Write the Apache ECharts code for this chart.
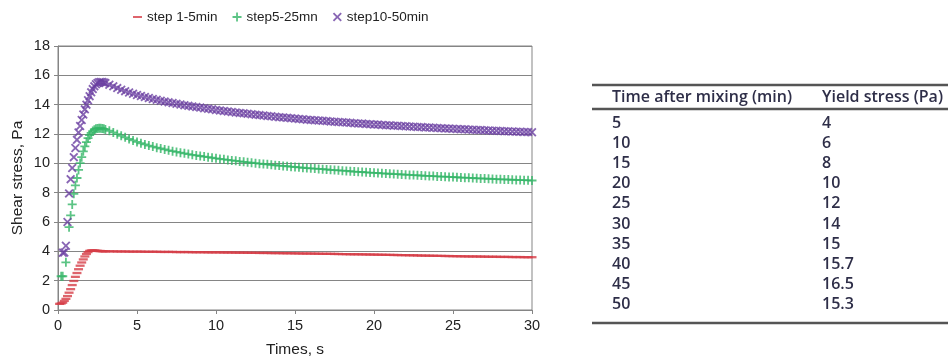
<!DOCTYPE html>
<html>
<head>
<meta charset="utf-8">
<script src="https://cdn.jsdelivr.net/npm/echarts@6/dist/echarts.min.js"></script>
<style>
  html, body { margin: 0; padding: 0; background: #fff; }
  #chart { width: 948px; height: 363px; }
</style>
</head>
<body>
<div id="chart"></div>
<script>
// Sampling times (s): 0.1 s steps during the start-up, 0.25 s steps afterwards
const times = [
  0.1, 0.2, 0.3, 0.4, 0.5, 0.6, 0.7, 0.8, 0.9, 1.0,
  1.1, 1.2, 1.3, 1.4, 1.5, 1.6, 1.7, 1.8, 1.9, 2.0,
  2.1, 2.2, 2.3, 2.4, 2.5, 2.6, 2.7, 2.8, 2.9, 3.0,
  3.25, 3.5, 3.75, 4.0, 4.25, 4.5, 4.75, 5.0,
  5.25, 5.5, 5.75, 6.0, 6.25, 6.5, 6.75, 7.0,
  7.25, 7.5, 7.75, 8.0, 8.25, 8.5, 8.75, 9.0,
  9.25, 9.5, 9.75, 10.0, 10.25, 10.5, 10.75, 11.0,
  11.25, 11.5, 11.75, 12.0, 12.25, 12.5, 12.75, 13.0,
  13.25, 13.5, 13.75, 14.0, 14.25, 14.5, 14.75, 15.0,
  15.25, 15.5, 15.75, 16.0, 16.25, 16.5, 16.75, 17.0,
  17.25, 17.5, 17.75, 18.0, 18.25, 18.5, 18.75, 19.0,
  19.25, 19.5, 19.75, 20.0, 20.25, 20.5, 20.75, 21.0,
  21.25, 21.5, 21.75, 22.0, 22.25, 22.5, 22.75, 23.0,
  23.25, 23.5, 23.75, 24.0, 24.25, 24.5, 24.75, 25.0,
  25.25, 25.5, 25.75, 26.0, 26.25, 26.5, 26.75, 27.0,
  27.25, 27.5, 27.75, 28.0, 28.25, 28.5, 28.75, 29.0,
  29.25, 29.5, 29.75, 30.0
];

// Shear stress (Pa), step 1-5 min
const step1to5 = [
  0.42, 0.44, 0.50, 0.62, 0.76, 0.95, 1.18, 1.42, 1.70, 1.98,
  2.26, 2.52, 2.78, 3.02, 3.24, 3.45, 3.65, 3.82, 3.95, 4.03,
  4.06, 4.06, 4.05, 4.04, 4.03, 4.02, 4.02, 4.01, 4.01, 4.00,
  4.00, 4.00, 3.99, 3.99, 3.99, 3.98, 3.98, 3.98,
  3.98, 3.97, 3.97, 3.97, 3.97, 3.96, 3.96, 3.96,
  3.96, 3.95, 3.95, 3.95, 3.95, 3.94, 3.94, 3.94,
  3.94, 3.93, 3.93, 3.93, 3.93, 3.92, 3.92, 3.92,
  3.91, 3.91, 3.91, 3.90, 3.90, 3.90, 3.89, 3.89,
  3.89, 3.88, 3.88, 3.88, 3.87, 3.87, 3.87, 3.86,
  3.86, 3.85, 3.85, 3.85, 3.84, 3.84, 3.83, 3.83,
  3.83, 3.82, 3.82, 3.81, 3.81, 3.80, 3.80, 3.80,
  3.79, 3.79, 3.78, 3.78, 3.77, 3.77, 3.76, 3.76,
  3.75, 3.75, 3.74, 3.74, 3.73, 3.73, 3.72, 3.71,
  3.71, 3.70, 3.70, 3.69, 3.69, 3.68, 3.68, 3.67,
  3.67, 3.66, 3.66, 3.65, 3.65, 3.65, 3.64, 3.64,
  3.63, 3.63, 3.63, 3.62, 3.62, 3.62, 3.61, 3.61,
  3.61, 3.60, 3.60, 3.60
];

// Shear stress (Pa), step 5-25 min
const step5to25 = [
  null, 2.30, 2.30, null, 3.25, null, 5.65, 6.45, 7.20, 7.92,
  8.50, 9.00, 9.55, 10.02, 10.42, 10.82, 11.15, 11.45, 11.72, 11.92,
  12.08, 12.20, 12.29, 12.35, 12.38, 12.40, 12.40, 12.38, 12.35, 12.31,
  12.22, 12.11, 11.99, 11.88, 11.77, 11.66, 11.56, 11.46,
  11.37, 11.29, 11.21, 11.14, 11.07, 11.01, 10.95, 10.89,
  10.83, 10.78, 10.73, 10.68, 10.63, 10.58, 10.54, 10.50,
  10.46, 10.42, 10.38, 10.34, 10.30, 10.27, 10.23, 10.20,
  10.17, 10.13, 10.10, 10.07, 10.04, 10.01, 9.98, 9.95,
  9.93, 9.90, 9.87, 9.85, 9.82, 9.80, 9.77, 9.75,
  9.73, 9.70, 9.68, 9.66, 9.64, 9.62, 9.60, 9.58,
  9.56, 9.54, 9.52, 9.50, 9.48, 9.46, 9.44, 9.42,
  9.41, 9.39, 9.37, 9.35, 9.34, 9.32, 9.30, 9.29,
  9.27, 9.26, 9.24, 9.23, 9.21, 9.20, 9.18, 9.17,
  9.15, 9.14, 9.13, 9.11, 9.10, 9.09, 9.07, 9.06,
  9.05, 9.03, 9.02, 9.01, 9.00, 8.98, 8.97, 8.96,
  8.95, 8.94, 8.92, 8.91, 8.90, 8.89, 8.88, 8.87,
  8.86, 8.85, 8.84, 8.83
];

// Shear stress (Pa), step 10-50 min
const step10to50 = [
  null, null, 3.90, 3.92, 4.38, 6.00, 7.95, 8.92, 9.68, 10.42,
  11.05, 11.60, 12.10, 12.55, 12.95, 13.33, 13.68, 14.00, 14.30, 14.58,
  14.84, 15.06, 15.25, 15.39, 15.48, 15.53, 15.55, 15.54, 15.51, 15.47,
  15.36, 15.25, 15.13, 15.02, 14.92, 14.83, 14.74, 14.66,
  14.59, 14.52, 14.45, 14.39, 14.33, 14.27, 14.21, 14.16,
  14.11, 14.06, 14.01, 13.96, 13.92, 13.88, 13.84, 13.80,
  13.76, 13.72, 13.68, 13.64, 13.61, 13.57, 13.54, 13.50,
  13.47, 13.44, 13.41, 13.38, 13.35, 13.32, 13.29, 13.26,
  13.23, 13.21, 13.18, 13.15, 13.13, 13.10, 13.08, 13.05,
  13.03, 13.01, 12.98, 12.96, 12.94, 12.92, 12.90, 12.88,
  12.86, 12.84, 12.82, 12.80, 12.78, 12.76, 12.74, 12.72,
  12.71, 12.69, 12.67, 12.65, 12.64, 12.62, 12.60, 12.59,
  12.57, 12.56, 12.54, 12.53, 12.51, 12.50, 12.48, 12.47,
  12.45, 12.44, 12.43, 12.41, 12.40, 12.38, 12.37, 12.36,
  12.34, 12.33, 12.32, 12.30, 12.29, 12.28, 12.27, 12.25,
  12.24, 12.23, 12.22, 12.21, 12.19, 12.18, 12.17, 12.16,
  12.15, 12.14, 12.13, 12.12
];

const seriesNames = ['step 1-5min', 'step5-25mn', 'step10-50min'];

// Yield stress table
const tableHeader = ['Time after mixing (min)', 'Yield stress (Pa)'];
const mixingTimes = ['5', '10', '15', '20', '25', '30', '35', '40', '45', '50'];
const yieldStress = ['4', '6', '8', '10', '12', '14', '15', '15.7', '16.5', '15.3'];

const xTicks = { min: 0, max: 30, interval: 5 };
const yTicks = { min: 0, max: 18, interval: 2 };

const toPoints = vals => times.map((t, i) => [t, vals[i]]).filter(p => p[1] != null);

const PLUS = 'path://M4,0 L6,0 L6,4 L10,4 L10,6 L6,6 L6,10 L4,10 L4,6 L0,6 L0,4 L4,4 Z';
const CROSS = 'path://M0,1.45 L1.45,0 L5,3.55 L8.55,0 L10,1.45 L6.45,5 L10,8.55 L8.55,10 L5,6.45 L1.45,10 L0,8.55 L3.55,5 Z';
const DASH_ICON = 'path://M0,0 L0.01,0 M0,3.8 L10,3.8 L10,6.2 L0,6.2 Z M10,10 L9.99,10';

const RED = '#d63d47', GREEN = '#33b566', PURPLE = '#6a3ea1';
const FONT = 'Liberation Sans';
const TEXT = '#222';
const TABLE_TEXT = '#2e2e48';

// table drawing (graphic elements)
const tbl = { x0: 592, x1: 948, col1: 612, col2: 822, top: 85, head: 97, headRule: 109, row0: 123, rowStep: 20.2, bottom: 323 };
const tableFont = { fontFamily: 'Open Sans', fontSize: 16, fontWeight: 600, fill: TABLE_TEXT };
const graphics = [];
[tbl.top, tbl.headRule, tbl.bottom].forEach(y => {
  graphics.push({ type: 'rect', shape: { x: tbl.x0, y: y - 1.25, width: tbl.x1 - tbl.x0, height: 2.5 }, style: { fill: '#555' } });
});
graphics.push({ type: 'text', x: tbl.col1, y: tbl.head, style: Object.assign({ text: tableHeader[0], verticalAlign: 'middle' }, tableFont) });
graphics.push({ type: 'text', x: tbl.col2, y: tbl.head, style: Object.assign({ text: tableHeader[1], verticalAlign: 'middle' }, tableFont) });
mixingTimes.forEach((m, i) => {
  const y = tbl.row0 + i * tbl.rowStep;
  graphics.push({ type: 'text', x: tbl.col1, y: y, style: Object.assign({ text: m, verticalAlign: 'middle' }, tableFont) });
  graphics.push({ type: 'text', x: tbl.col2, y: y, style: Object.assign({ text: yieldStress[i], verticalAlign: 'middle' }, tableFont) });
});

const chart = echarts.init(document.getElementById('chart'), null, { renderer: 'canvas' });
chart.setOption({
  backgroundColor: '#fff',
  animation: false,
  textStyle: { fontFamily: FONT },
  legend: {
    left: 128, top: 5,
    itemWidth: 9, itemHeight: 9, itemGap: 15,
    textStyle: { fontFamily: FONT, fontSize: 13.5, color: TEXT },
    data: [
      { name: seriesNames[0], icon: DASH_ICON },
      { name: seriesNames[1], icon: PLUS },
      { name: seriesNames[2], icon: CROSS }
    ]
  },
  grid: { left: 58, right: 416, top: 46, bottom: 43, show: true, borderColor: '#858585', borderWidth: 1 },
  xAxis: {
    type: 'value', min: xTicks.min, max: xTicks.max, interval: xTicks.interval,
    name: 'Times, s', nameLocation: 'middle', nameGap: 32,
    nameTextStyle: { fontFamily: FONT, fontSize: 15.5, color: TEXT },
    axisLine: { show: true, lineStyle: { color: '#858585' } },
    axisTick: { show: true, length: 4, lineStyle: { color: '#858585' } },
    axisLabel: { fontFamily: FONT, fontSize: 14.5, color: TEXT, margin: 8 },
    splitLine: { show: false }
  },
  yAxis: {
    type: 'value', min: yTicks.min, max: yTicks.max, interval: yTicks.interval,
    name: 'Shear stress, Pa', nameLocation: 'middle', nameGap: 32,
    nameTextStyle: { fontFamily: FONT, fontSize: 15.5, color: TEXT },
    axisLine: { show: true, lineStyle: { color: '#858585' } },
    axisTick: { show: true, length: 4, lineStyle: { color: '#858585' } },
    axisLabel: { fontFamily: FONT, fontSize: 14.5, color: TEXT, margin: 8 },
    splitLine: { show: true, lineStyle: { color: '#858585', width: 1 } }
  },
  series: [
    {
      name: seriesNames[0], type: 'scatter', data: toPoints(step1to5),
      symbol: 'rect', symbolSize: [9, 2.3], itemStyle: { color: RED }
    },
    {
      name: seriesNames[1], type: 'scatter', data: toPoints(step5to25),
      symbol: PLUS, symbolSize: 9, itemStyle: { color: GREEN }
    },
    {
      name: seriesNames[2], type: 'scatter', data: toPoints(step10to50),
      symbol: CROSS, symbolSize: 9, itemStyle: { color: PURPLE }
    }
  ],
  graphic: graphics
});
</script>
</body>
</html>
